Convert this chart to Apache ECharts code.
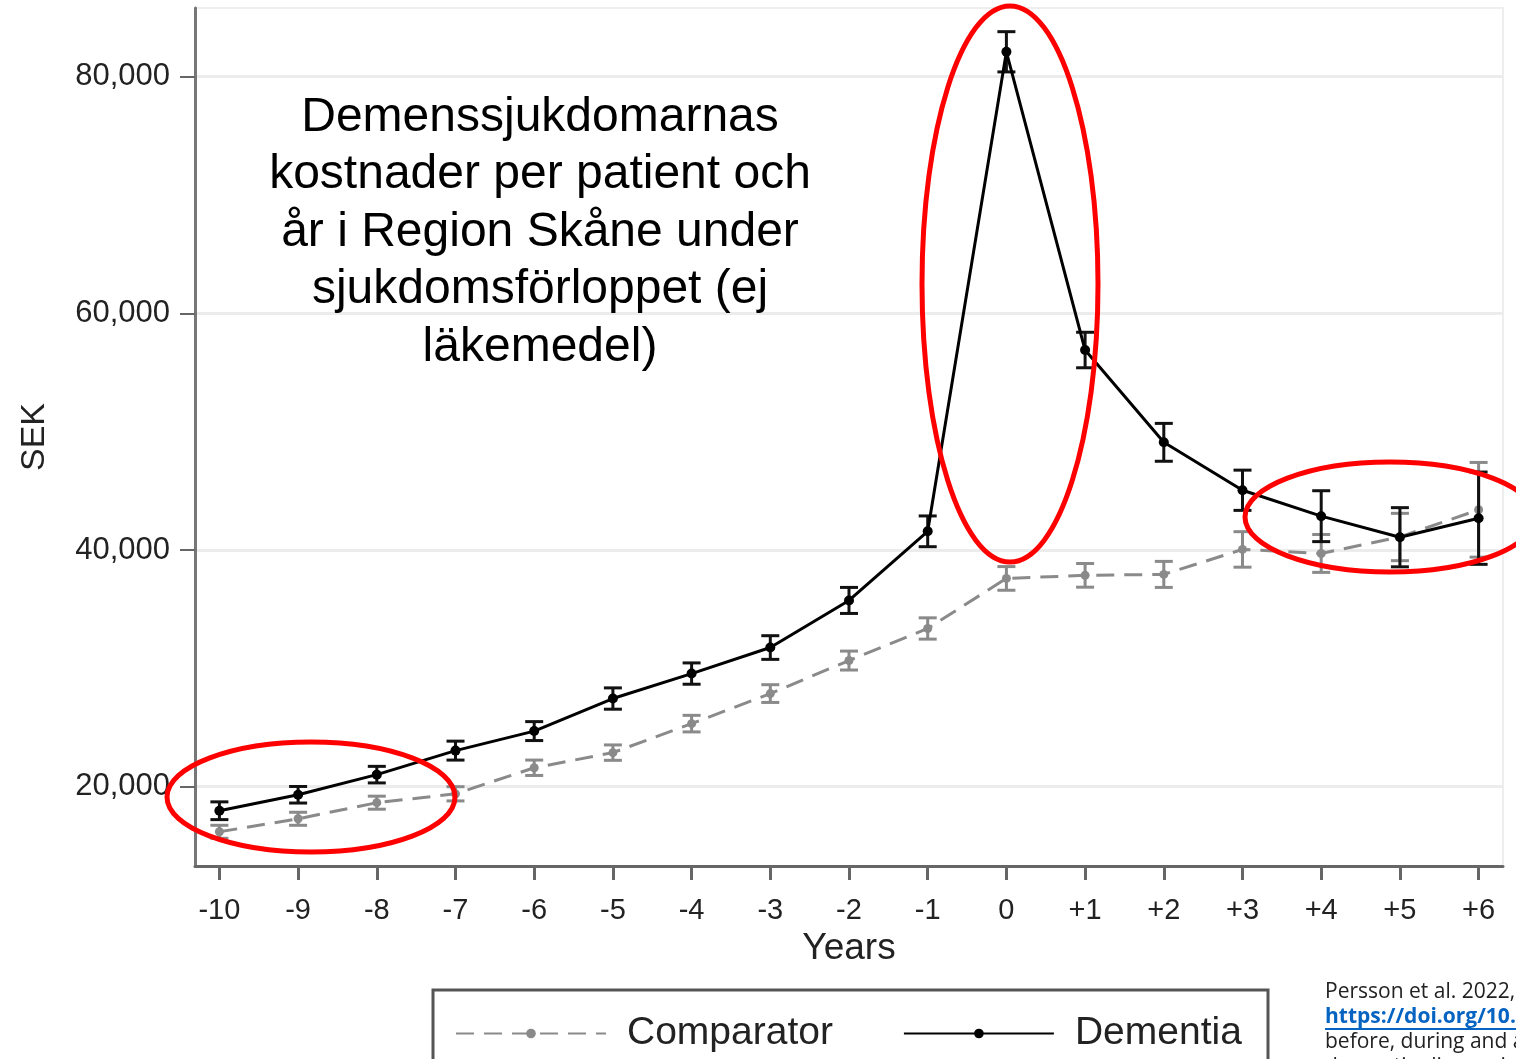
<!DOCTYPE html>
<html>
<head>
<meta charset="utf-8">
<title>Demenssjukdomarnas kostnader</title>
<script src="https://cdn.jsdelivr.net/npm/echarts@6/dist/echarts.min.js"></script>
<style>
  html, body { margin: 0; padding: 0; background: #fff; }
  #chart { width: 1516px; height: 1059px; }
</style>
</head>
<body>
<div id="chart"></div>
<script>
// years relative to diagnosis
var years = [-10, -9, -8, -7, -6, -5, -4, -3, -2, -1, 0, 1, 2, 3, 4, 5, 6];
var yTicks = [20000, 40000, 60000, 80000];

// mean cost per patient and year (SEK)
var dementia = [17970, 19320, 21020, 23050, 24700, 27450, 29560, 31760, 35740, 41580, 82100, 56900, 49100, 45050, 42860, 41080, 42690];
var dementiaErr = [750, 700, 700, 800, 800, 900, 900, 1000, 1100, 1300, 1700, 1500, 1600, 1700, 2150, 2500, 3900];
var comparator = [16190, 17290, 18650, 19400, 21600, 22880, 25330, 27870, 30660, 33370, 37600, 37860, 37940, 40050, 39710, 41100, 43400];
var comparatorErr = [550, 550, 550, 600, 650, 650, 700, 750, 800, 900, 1000, 1000, 1100, 1500, 1600, 2000, 4000];

var noteLines = ['Demenssjukdomarnas', 'kostnader per patient och', 'år i Region Skåne under', 'sjukdomsförloppet (ej', 'läkemedel)'];

function pairs(vals) {
	var out = [];
	for (var i = 0; i < years.length; i++) {
		out.push([years[i], vals[i]]);
	}
	return out;
}

function bars(vals, errs) {
	var out = [];
	for (var i = 0; i < years.length; i++) {
		out.push([years[i], vals[i] - errs[i], vals[i] + errs[i]]);
	}
	return out;
}

// error bar with caps
function errorBar(color) {
	return function (params, api) {
		var lo = api.coord([api.value(0), api.value(1)]);
		var hi = api.coord([api.value(0), api.value(2)]);
		var w = 9;
		var style = { stroke: color, lineWidth: 3 };
		return {
			type: 'group',
			children: [
				{ type: 'line', shape: { x1: hi[0], y1: hi[1], x2: lo[0], y2: lo[1] }, style: style },
				{ type: 'line', shape: { x1: hi[0] - w, y1: hi[1], x2: hi[0] + w, y2: hi[1] }, style: style },
				{ type: 'line', shape: { x1: lo[0] - w, y1: lo[1], x2: lo[0] + w, y2: lo[1] }, style: style }
			]
		};
	};
}

function fmtYear(v) {
	return v > 0 ? '+' + v : String(v);
}

function fmtSek(v) {
	return String(v).replace(/\B(?=(\d{3})+(?!\d))/g, ',');
}

var chart = echarts.init(document.getElementById('chart'));
var font = 'Liberation Sans, Arial, sans-serif';
var noteFont = 'Open Sans, sans-serif';

var option = {
	animation: false,
	backgroundColor: '#fff',
	grid: {
		left: 195, right: 13, top: 8, bottom: 193,
		containLabel: false,
		outerBoundsMode: 'none',
		show: true,
		borderColor: '#eeeeee',
		borderWidth: 2
	},
	xAxis: {
		type: 'value',
		min: -10.31,
		max: 6.31,
		name: 'Years',
		nameLocation: 'middle',
		nameGap: 62,
		nameTextStyle: { fontFamily: font, fontSize: 37, color: '#222' },
		axisLine: { show: true, onZero: false, lineStyle: { color: '#666', width: 3 } },
		axisTick: { show: true, length: 14, customValues: years, lineStyle: { color: '#666', width: 3 } },
		axisLabel: {
			customValues: years, margin: 30, formatter: fmtYear,
			fontFamily: font, fontSize: 29, color: '#222'
		},
		splitLine: { show: false }
	},
	yAxis: {
		type: 'value',
		min: 13300,
		max: 85800,
		name: 'SEK',
		nameLocation: 'middle',
		nameGap: 143,
		nameRotate: 90,
		nameTextStyle: { fontFamily: font, fontSize: 34, color: '#222' },
		axisLine: { show: true, onZero: false, lineStyle: { color: '#777', width: 3 } },
		axisTick: { show: true, length: 15, customValues: yTicks, lineStyle: { color: '#666', width: 2 } },
		axisLabel: {
			customValues: yTicks, margin: 25, formatter: fmtSek,
			fontFamily: font, fontSize: 31, color: '#222'
		},
		splitLine: { show: true, lineStyle: { color: '#ececec', width: 3 } }
	},
	legend: {
		data: ['Comparator', 'Dementia'],
		left: 450,
		top: 1009,
		itemWidth: 150,
		itemHeight: 12,
		itemGap: 70,
		textStyle: { fontFamily: font, fontSize: 39, color: '#222', padding: [0, 0, 0, 16] }
	},
	series: [
		{
			name: 'Comparator',
			type: 'line',
			data: pairs(comparator),
			symbol: 'circle',
			symbolSize: 9,
			itemStyle: { color: '#8a8a8a' },
			lineStyle: { color: '#8a8a8a', width: 3, type: [18, 10] },
			z: 3
		},
		{
			name: 'Comparator err',
			type: 'custom',
			data: bars(comparator, comparatorErr),
			renderItem: errorBar('#8a8a8a'),
			z: 3
		},
		{
			name: 'Dementia',
			type: 'line',
			data: pairs(dementia),
			symbol: 'circle',
			symbolSize: 10,
			itemStyle: { color: '#000' },
			lineStyle: { color: '#000', width: 3 },
			z: 5
		},
		{
			name: 'Dementia err',
			type: 'custom',
			data: bars(dementia, dementiaErr),
			renderItem: errorBar('#111'),
			z: 5
		}
	],
	graphic: [
		{
			type: 'text', z: 10,
			style: {
				text: noteLines.join('\n'),
				x: 540, y: 89,
				font: '48px ' + font,
				fill: '#000',
				align: 'center',
				verticalAlign: 'top',
				lineHeight: 57.5
			}
		},
		// red highlight rings
		{ type: 'ellipse', z: 20, shape: { cx: 311, cy: 797, rx: 144, ry: 55 }, style: { fill: null, stroke: '#ff0000', lineWidth: 5 } },
		{ type: 'ellipse', z: 20, shape: { cx: 1010, cy: 284, rx: 88, ry: 278 }, style: { fill: null, stroke: '#ff0000', lineWidth: 5 } },
		{ type: 'ellipse', z: 20, shape: { cx: 1390, cy: 517, rx: 145, ry: 55 }, style: { fill: null, stroke: '#ff0000', lineWidth: 5 } },
		// legend frame
		{ type: 'rect', z: 1, shape: { x: 433, y: 990, width: 835, height: 90 }, style: { fill: null, stroke: '#555', lineWidth: 3 } },
		// source note
		{ type: 'text', z: 10, style: { text: 'Persson et al. 2022,   Dementia costs', x: 1325, y: 992, font: '21px ' + noteFont, fill: '#222', verticalAlign: 'middle' } },
		{ type: 'text', z: 10, style: { text: 'https://doi.org/10.', x: 1325, y: 1017, font: 'bold 21px ' + noteFont, fill: '#0563c1', verticalAlign: 'middle' } },
		{ type: 'line', z: 10, shape: { x1: 1325, y1: 1029, x2: 1516, y2: 1029 }, style: { stroke: '#0563c1', lineWidth: 2 } },
		{ type: 'text', z: 10, style: { text: 'before, during and after', x: 1325, y: 1042, font: '21px ' + noteFont, fill: '#222', verticalAlign: 'middle' } },
		{ type: 'text', z: 10, style: { text: 'dementia diagnosis', x: 1325, y: 1067, font: '21px ' + noteFont, fill: '#222', verticalAlign: 'middle' } }
	]
};

chart.setOption(option);
</script>
</body>
</html>
